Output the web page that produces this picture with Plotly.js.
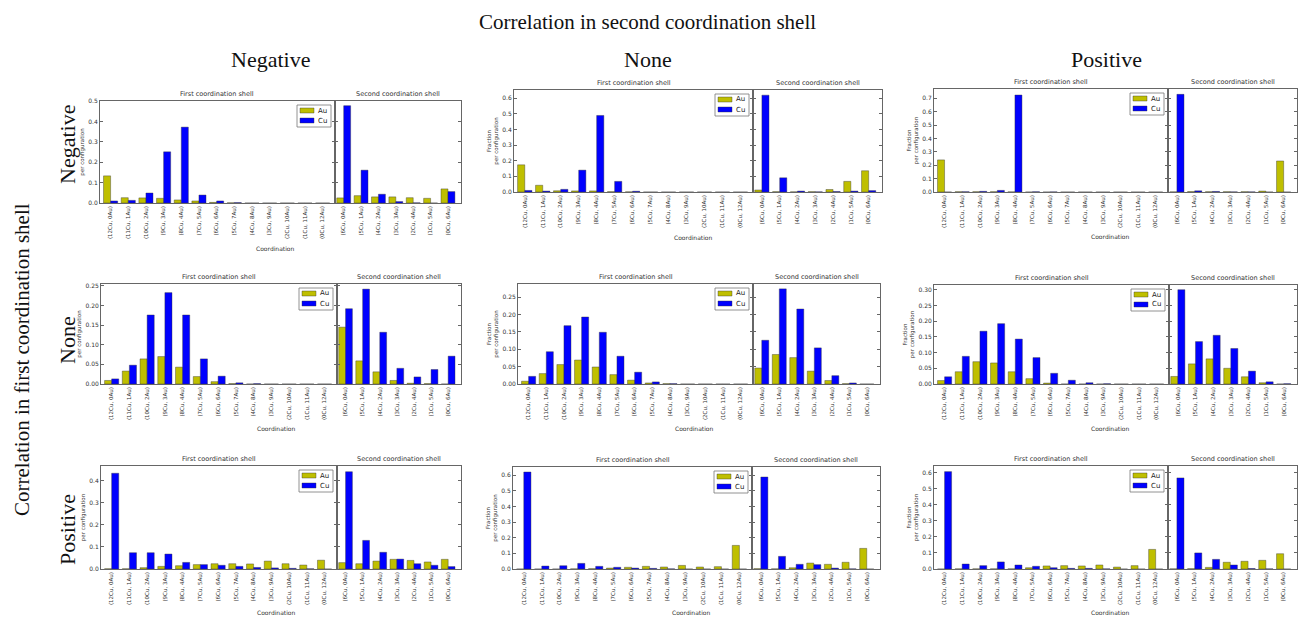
<!DOCTYPE html>
<html><head><meta charset="utf-8">
<script src="https://cdn.plot.ly/plotly-3.0.1.min.js"></script>
<style>html,body{margin:0;padding:0;background:#fff}#chart{width:1300px;height:617px}</style>
</head><body><div id="chart"></div>
<script>
// ---------- data ----------
const firstLabels = ['(12Cu, 0Au)','(11Cu, 1Au)','(10Cu, 2Au)','(9Cu, 3Au)','(8Cu, 4Au)','(7Cu, 5Au)','(6Cu, 6Au)','(5Cu, 7Au)','(4Cu, 8Au)','(3Cu, 9Au)','(2Cu, 10Au)','(1Cu, 11Au)','(0Cu, 12Au)'];
const secondLabels = ['(6Cu, 0Au)','(5Cu, 1Au)','(4Cu, 2Au)','(3Cu, 3Au)','(2Cu, 4Au)','(1Cu, 5Au)','(0Cu, 6Au)'];
const seriesNames = ['Au','Cu'];
const rowTitles = ['Negative','None','Positive'];
const colTitles = ['Negative','None','Positive'];

// row = correlation in first shell, col = correlation in second shell
const r1c1_first_au  = [0.133,0.026,0.025,0.023,0.015,0.010,0.003,0.001,0,0,0,0,0];
const r1c1_first_cu  = [0.010,0.013,0.049,0.251,0.372,0.039,0.010,0.002,0,0,0,0,0];
const r1c1_second_au = [0.025,0.036,0.030,0.030,0.026,0.023,0.069];
const r1c1_second_cu = [0.477,0.161,0.043,0.007,0.001,0,0.056];

const r1c2_first_au  = [0.174,0.043,0.008,0.007,0.007,0.002,0.001,0,0,0,0,0,0];
const r1c2_first_cu  = [0.010,0.006,0.017,0.140,0.490,0.068,0.005,0,0,0,0,0,0];
const r1c2_second_au = [0.013,0.002,0.001,0.002,0.016,0.068,0.136];
const r1c2_second_cu = [0.620,0.091,0.006,0.001,0.003,0.006,0.009];

const r1c3_first_au  = [0.240,0.002,0.002,0.002,0.001,0,0,0,0,0,0,0,0];
const r1c3_first_cu  = [0,0.002,0.005,0.012,0.725,0.002,0.001,0,0,0,0,0,0];
const r1c3_second_au = [0.001,0.003,0.002,0.002,0.002,0.007,0.232];
const r1c3_second_cu = [0.730,0.009,0.004,0.001,0.001,0,0];

const r2c1_first_au  = [0.009,0.033,0.064,0.070,0.043,0.019,0.006,0.001,0,0,0,0,0];
const r2c1_first_cu  = [0.013,0.048,0.176,0.233,0.176,0.064,0.020,0.003,0.001,0,0,0,0];
const r2c1_second_au = [0.145,0.059,0.031,0.009,0.002,0.001,0];
const r2c1_second_cu = [0.192,0.242,0.132,0.040,0.018,0.037,0.071];

const r2c2_first_au  = [0.008,0.030,0.056,0.069,0.049,0.027,0.011,0.003,0.001,0,0,0,0];
const r2c2_first_cu  = [0.022,0.093,0.168,0.193,0.149,0.080,0.034,0.006,0.001,0,0,0,0];
const r2c2_second_au = [0.046,0.085,0.076,0.037,0.010,0.001,0];
const r2c2_second_cu = [0.126,0.274,0.216,0.104,0.024,0.003,0];

const r2c3_first_au  = [0.011,0.039,0.071,0.067,0.039,0.017,0.003,0,0,0,0,0,0];
const r2c3_first_cu  = [0.023,0.088,0.168,0.192,0.143,0.084,0.034,0.012,0.004,0.001,0,0,0];
const r2c3_second_au = [0.024,0.064,0.080,0.050,0.023,0.004,0];
const r2c3_second_cu = [0.300,0.135,0.155,0.113,0.041,0.007,0.001];

const r3c1_first_au  = [0.001,0.001,0.006,0.012,0.015,0.020,0.024,0.024,0.023,0.036,0.024,0.018,0.040];
const r3c1_first_cu  = [0.435,0.074,0.074,0.068,0.030,0.020,0.017,0.012,0.007,0.005,0.003,0.001,0];
const r3c1_second_au = [0.029,0.024,0.036,0.044,0.039,0.032,0.044];
const r3c1_second_cu = [0.442,0.130,0.076,0.045,0.024,0.017,0.011];

const r3c2_first_au  = [0,0,0,0.001,0.002,0.006,0.011,0.017,0.013,0.023,0.013,0.015,0.151];
const r3c2_first_cu  = [0.621,0.019,0.021,0.036,0.017,0.011,0.006,0.004,0.001,0,0,0,0];
const r3c2_second_au = [0.002,0.001,0.008,0.038,0.030,0.043,0.132];
const r3c2_second_cu = [0.589,0.081,0.030,0.028,0.006,0.001,0];

const r3c3_first_au  = [0,0.001,0.001,0.001,0.001,0.008,0.019,0.021,0.019,0.025,0.012,0.021,0.122];
const r3c3_first_cu  = [0.606,0.031,0.021,0.044,0.025,0.017,0.008,0.004,0.004,0.001,0,0,0];
const r3c3_second_au = [0.001,0.002,0.010,0.042,0.048,0.054,0.095];
const r3c3_second_cu = [0.567,0.100,0.060,0.025,0.003,0.001,0];

// ---------- layout geometry (pixels) ----------
const W = 1300, H = 617;
const panels = [
  {d:[r1c1_first_au,r1c1_first_cu,r1c1_second_au,r1c1_second_cu], ymax:0.5,   dtick:0.1,  fmt:'.1f', x0:100, xm:335, x1:461, top:101, bot:203, yt:'per configuration', cy:248},
  {d:[r1c2_first_au,r1c2_first_cu,r1c2_second_au,r1c2_second_cu], ymax:0.653, dtick:0.1,  fmt:'.1f', x0:514, xm:753, x1:882, top:90,  bot:192, yt:'Fraction<br>per configuration', cy:237},
  {d:[r1c3_first_au,r1c3_first_cu,r1c3_second_au,r1c3_second_cu], ymax:0.77,  dtick:0.1,  fmt:'.1f', x0:934, xm:1168,x1:1297,top:89,  bot:192, yt:'Fraction<br>per configuration', cy:236},
  {d:[r2c1_first_au,r2c1_first_cu,r2c1_second_au,r2c1_second_cu], ymax:0.255, dtick:0.05, fmt:'.2f', x0:101, xm:337, x1:461, top:284, bot:384, yt:'per configuration', cy:428},
  {d:[r2c2_first_au,r2c2_first_cu,r2c2_second_au,r2c2_second_cu], ymax:0.288, dtick:0.05, fmt:'.2f', x0:518, xm:753, x1:880, top:284, bot:384, yt:'Fraction<br>per configuration', cy:428},
  {d:[r2c3_first_au,r2c3_first_cu,r2c3_second_au,r2c3_second_cu], ymax:0.315, dtick:0.05, fmt:'.2f', x0:934, xm:1169,x1:1297,top:285, bot:384, yt:'Fraction<br>per configuration', cy:428},
  {d:[r3c1_first_au,r3c1_first_cu,r3c1_second_au,r3c1_second_cu], ymax:0.468, dtick:0.1,  fmt:'.1f', x0:101, xm:337, x1:461, top:466, bot:569, yt:'per configuration', cy:612},
  {d:[r3c2_first_au,r3c2_first_cu,r3c2_second_au,r3c2_second_cu], ymax:0.653, dtick:0.1,  fmt:'.1f', x0:513, xm:752, x1:880, top:467, bot:569, yt:'Fraction<br>per configuration', cy:612},
  {d:[r3c3_first_au,r3c3_first_cu,r3c3_second_au,r3c3_second_cu], ymax:0.641, dtick:0.1,  fmt:'.1f', x0:934, xm:1168,x1:1297,top:466, bot:569, yt:'Fraction<br>per configuration', cy:612}
];
const colors = ['#bfbf00','#0000ff'];
const lineCol = '#666';
const smallFont = 'DejaVu Sans, Arial, sans-serif';
const serif = 'Liberation Serif, Times New Roman, serif';

const traces = [];
const layout = {
  width: W, height: H, margin:{l:0,r:0,t:0,b:0}, paper_bgcolor:'#fff', plot_bgcolor:'#fff',
  barmode:'group', bargap:0.2, bargroupgap:0, showlegend:false, annotations:[], shapes:[]
};
const px = v => v/W, py = v => 1 - v/H;

panels.forEach((p, k) => {
  const i1 = 2*k+1, i2 = 2*k+2;
  const xa1 = 'x'+(i1===1?'':i1), ya1 = 'y'+(i1===1?'':i1);
  const xa2 = 'x'+i2, ya2 = 'y'+i2;
  [0,1].forEach(s => {
    traces.push({type:'bar', x:firstLabels, y:p.d[s], name:seriesNames[s], xaxis:xa1, yaxis:ya1,
      marker:{color:colors[s], line:{width:0.4, color:'#333'}}, hoverinfo:'skip'});
  });
  [0,1].forEach(s => {
    traces.push({type:'bar', x:secondLabels, y:p.d[2+s], name:seriesNames[s], xaxis:xa2, yaxis:ya2,
      marker:{color:colors[s], line:{width:0.4, color:'#333'}}, hoverinfo:'skip'});
  });
  const yd = [py(p.bot), py(p.top)];
  const xcommon = {type:'category', tickangle:-90, tickfont:{size:5.5, family:smallFont, color:'#333'},
    showline:true, mirror:true, linecolor:lineCol, linewidth:1, ticks:'', showgrid:false, zeroline:false, fixedrange:true, automargin:false};
  layout['xaxis'+(i1===1?'':i1)] = Object.assign({}, xcommon, {domain:[px(p.x0), px(p.xm)], anchor:ya1, range:[-0.6, 12.7]});
  layout['xaxis'+i2] = Object.assign({}, xcommon, {domain:[px(p.xm), px(p.x1)], anchor:ya2, range:[-0.5, 6.75]});
  const ycommon = {range:[0,p.ymax], dtick:p.dtick, tick0:0, tickformat:p.fmt, ticks:'inside', ticklen:3, tickcolor:lineCol,
    showline:true, mirror:'ticks', linecolor:lineCol, linewidth:1, showgrid:false, zeroline:false, fixedrange:true,
    tickfont:{size:6, family:smallFont, color:'#333'}, automargin:false};
  layout['yaxis'+(i1===1?'':i1)] = Object.assign({}, ycommon, {domain:yd, anchor:xa1,
    title:{text:p.yt, font:{size:5.5, family:smallFont, color:'#333'}, standoff:3}});
  layout['yaxis'+i2] = Object.assign({}, ycommon, {domain:yd, anchor:xa2, showticklabels:false});

  // legend box (drawn with shapes + text)
  const bR = p.xm - 4, bL = bR - 34, bT = p.top + 4, bB = bT + 22;
  layout.shapes.push({type:'rect', xref:'paper', yref:'paper', x0:px(bL), x1:px(bR), y0:py(bB), y1:py(bT),
    line:{color:'#777', width:0.8}, fillcolor:'#fff', layer:'above'});
  [0,1].forEach(s => {
    const cy = bT + 5.5 + s*10;
    layout.shapes.push({type:'rect', xref:'paper', yref:'paper', x0:px(bL+3), x1:px(bL+17), y0:py(cy+2.5), y1:py(cy-2.5),
      line:{color:'#333', width:0.4}, fillcolor:colors[s], layer:'above'});
    layout.annotations.push({text:seriesNames[s], x:px(bL+19), y:py(cy), xref:'paper', yref:'paper',
      xanchor:'left', yanchor:'middle', showarrow:false, font:{size:7, family:smallFont, color:'#222'}});
  });

  // subplot titles
  layout.annotations.push({text:'First coordination shell', x:px((p.x0+p.xm)/2), y:py(p.top-1), xref:'paper', yref:'paper',
    xanchor:'center', yanchor:'bottom', showarrow:false, font:{size:6.5, family:smallFont, color:'#333'}});
  layout.annotations.push({text:'Second coordination shell', x:px((p.xm+p.x1)/2), y:py(p.top-1), xref:'paper', yref:'paper',
    xanchor:'center', yanchor:'bottom', showarrow:false, font:{size:6.5, family:smallFont, color:'#333'}});
  layout.annotations.push({text:'Coordination', x:px((p.x0+p.x1)/2-5), y:py(p.cy), xref:'paper', yref:'paper',
    xanchor:'center', yanchor:'middle', showarrow:false, font:{size:6, family:smallFont, color:'#333'}});
});

// big titles
const bigAnn = (text, x, y, size, angle) => layout.annotations.push({text, x:px(x), y:py(y), xref:'paper', yref:'paper',
  xanchor:'center', yanchor:'middle', showarrow:false, textangle:angle||0, font:{size, family:serif, color:'#111'}});
bigAnn('Correlation in second coordination shell', 647, 22, 21);
[270, 648, 1106].forEach((x, j) => bigAnn(colTitles[j], x, 60, 22));
[145, 340, 530].forEach((y, j) => bigAnn(rowTitles[j], 67, y, 22, -90));
bigAnn('Correlation in first coordination shell', 22, 360, 21, -90);

Plotly.newPlot('chart', traces, layout, {staticPlot:true, displayModeBar:false});
</script></body></html>
